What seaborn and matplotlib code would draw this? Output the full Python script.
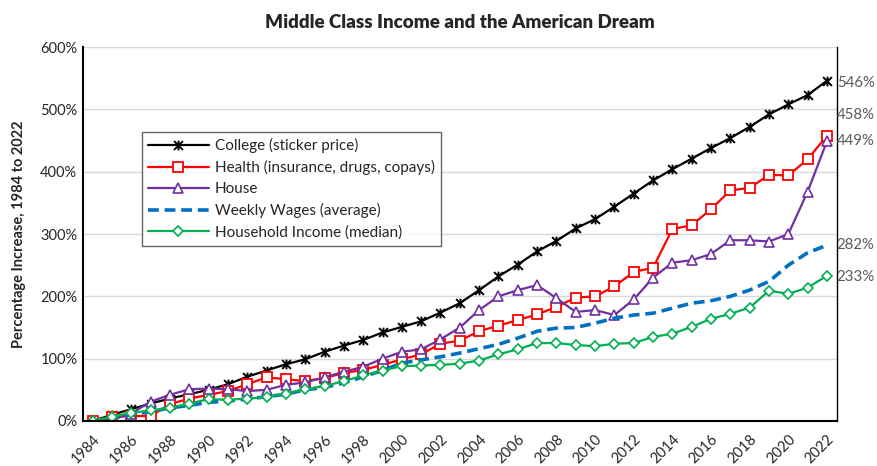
import matplotlib
matplotlib.use("Agg")
import matplotlib.pyplot as plt
from matplotlib.path import Path
from matplotlib.ticker import FixedLocator, PercentFormatter
import seaborn as sns

years = list(range(1984, 2023))

college = [0, 10, 19, 28, 36, 43, 50, 59, 71, 81, 91, 99, 111, 121, 130, 142, 151, 160, 174, 189,
           210, 232, 251, 272, 289, 309, 324, 344, 365, 386, 404, 421, 438, 454, 472, 492, 508, 523, 546]
health = [0, 7, 8, 8, 27, 36, 42, 48, 59, 70, 67, 64, 69, 77, 82, 90, 99, 107, 124, 129,
          144, 153, 162, 171, 183, 198, 200, 216, 239, 246, 308, 314, 340, 370, 374, 395, 394, 420, 458]
house = [0, 2, 12, 31, 42, 51, 52, 51, 48, 50, 58, 62, 70, 79, 87, 100, 111, 115, 131, 150,
         178, 200, 210, 218, 197, 175, 178, 170, 195, 230, 254, 258, 268, 290, 290, 288, 300, 368, 449]
wages = [0, 5, 10, 15, 21, 25, 30, 32, 35, 39, 43, 50, 54, 61, 71, 81, 93, 98, 103, 109,
         116, 123, 133, 144, 149, 150, 157, 165, 170, 173, 181, 189, 193, 200, 210, 224, 250, 270, 282]
income = [0, 7, 13, 17, 21, 28, 35, 34, 36, 38, 44, 51, 56, 64, 73, 81, 88, 89, 90, 92,
          97, 107, 115, 125, 125, 122, 120, 124, 125, 135, 140, 151, 164, 172, 182, 209, 204, 214, 233]

labels = ["College (sticker price)", "Health (insurance, drugs, copays)", "House",
          "Weekly Wages (average)", "Household Income (median)"]

sns.set_style("white")
plt.rcParams["font.family"] = ["Lato", "DejaVu Sans"]

# excel style "star" marker: an X with a vertical bar
star = Path([(-1, -1), (1, 1), (-1, 1), (1, -1), (0, -1.1), (0, 1.1)],
            [Path.MOVETO, Path.LINETO, Path.MOVETO, Path.LINETO, Path.MOVETO, Path.LINETO])

fig, ax = plt.subplots(figsize=(8.77, 4.66), dpi=100)
fig.subplots_adjust(left=0.0946, right=0.954, bottom=0.0966, top=0.899)

sns.lineplot(x=years, y=college, ax=ax, color="black", lw=1.6, marker=star, ms=7,
             mew=1.4, mec="black", label=labels[0])
sns.lineplot(x=years, y=health, ax=ax, color="#ff0000", lw=1.6, marker="s", ms=6.5,
             mew=1.3, mfc="white", mec="#ff0000", label=labels[1])
sns.lineplot(x=years, y=house, ax=ax, color="#7030a0", lw=1.6, marker="^", ms=7,
             mew=1.2, mfc="white", mec="#7030a0", label=labels[2])
sns.lineplot(x=years, y=wages, ax=ax, color="#0070c0", lw=2.6, dashes=(3, 1.6),
             label=labels[3])
sns.lineplot(x=years, y=income, ax=ax, color="#00b050", lw=1.6, marker="D", ms=5,
             mew=1.2, mfc="white", mec="#00b050", label=labels[4])

ax.set_xlim(1983.5, 2022.5)
ax.set_ylim(0, 600)
ax.set_yticks(range(0, 601, 100))
ax.yaxis.set_major_formatter(PercentFormatter(decimals=0))
ax.set_xticks(years[::2])
ax.set_xticklabels([str(y) for y in years[::2]], rotation=45, ha="right",
                   rotation_mode="anchor", fontsize=10.5)
ax.xaxis.set_minor_locator(FixedLocator([y - 0.5 for y in years] + [2022.5]))
ax.tick_params(axis="x", which="major", length=0, pad=8)
ax.tick_params(axis="x", which="minor", length=5, width=1, color="black", direction="out")
ax.tick_params(axis="y", labelsize=10.5, length=0, pad=4)
ax.grid(axis="y", color="#d9d9d9", lw=1)
ax.set_axisbelow(True)

for side in ["left", "bottom", "right"]:
    ax.spines[side].set_color("black")
ax.spines["left"].set_linewidth(1.5)
ax.spines["bottom"].set_linewidth(1.5)
ax.spines["right"].set_linewidth(1)
ax.spines["top"].set_visible(False)

ax.set_title("Middle Class Income and the American Dream", fontsize=13.5,
             fontweight="heavy", pad=14)
ax.set_ylabel("Percentage Increase, 1984 to 2022", fontsize=10.5, fontweight="bold",
              labelpad=10)
ax.set_xlabel("")

# end-of-line value labels
ends = [college[-1], health[-1], house[-1], wages[-1], income[-1]]
shifts = [-2, 15, 0, 0, -1]
for v, s in zip(ends, shifts):
    ax.annotate(f"{v}%", xy=(years[-1], v), xytext=(7, s), textcoords="offset points",
                va="center", ha="left", fontsize=10.8, color="#595959", annotation_clip=False)

leg = ax.legend(loc="upper left", bbox_to_anchor=(0.078, 0.772), fontsize=11,
                handlelength=4, frameon=True, fancybox=False, borderpad=0.4,
                labelspacing=0.45, handletextpad=0.4, borderaxespad=0)
leg.get_frame().set_edgecolor("#404040")
leg.get_frame().set_linewidth(1)

fig.savefig("out.png", dpi=100)
